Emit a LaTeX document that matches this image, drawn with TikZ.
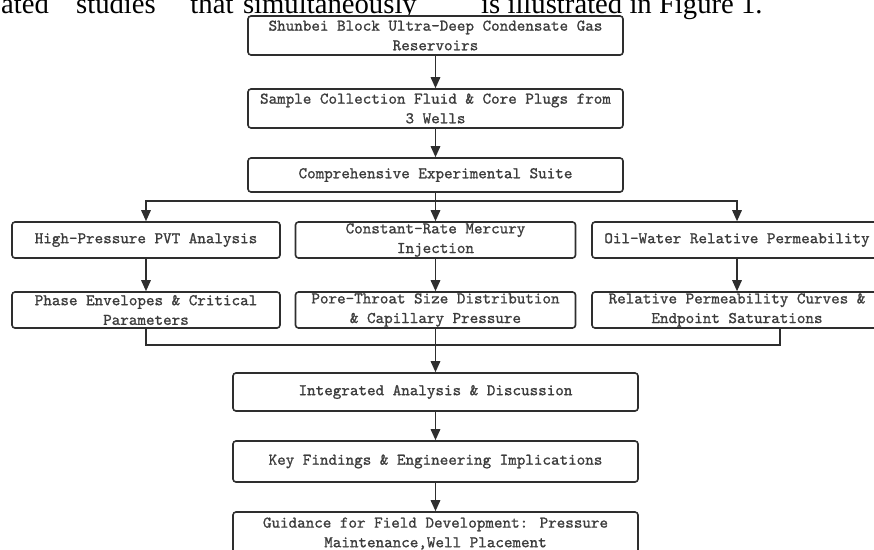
\documentclass[tikz,border=0pt]{standalone}
\usepackage{fontspec}
\newfontfamily\paperfont{Liberation Serif}
\newfontfamily\boxfont{lmmono10-regular.otf}[FakeBold=1.0]
\usetikzlibrary{arrows.meta}
\definecolor{linecol}{HTML}{2E2E2E}
\definecolor{txtcol}{HTML}{3C3C3C}
\tikzset{
  flowbox/.style={draw=linecol, line width=1.6pt, rounded corners=3pt, fill=white,
    inner sep=0pt, align=center, text=txtcol,
    font=\fontsize{16.3}{19.6}\selectfont\boxfont\bfseries},
  conn/.style={draw=linecol, line width=1.5pt},
  arr/.style={conn, -{Triangle[length=11pt,width=9.5pt]}},
  papertext/.style={anchor=base west, inner sep=0pt, font=\fontsize{28.7}{30}\selectfont\paperfont}
}
\begin{document}
\begin{tikzpicture}[x=1pt,y=-1pt]
\useasboundingbox (0,0) rectangle (874,549);
\fill[white] (0,0) rectangle (874,549);
\clip (0,0) rectangle (874,549);

% cropped line of the surrounding paper text
\node[papertext] (w1) at (1,13.2) {ated};
\node[papertext,anchor=base] (w2) at (116,13.2) {studies};
\node[papertext,anchor=base] (w3) at (212,13.2) {that};
\node[papertext,anchor=base east] (w4) at (417,13.2) {simultaneously};
\node[papertext] (w5) at (481,13.2) {is illustrated in Figure 1.};

% boxes
\node[flowbox, minimum width=375pt, minimum height=39pt] (b1) at (435.5,35.5)
  {Shunbei Block Ultra-Deep Condensate Gas\\Reservoirs};
\node[flowbox, minimum width=375pt, minimum height=39pt] (b2) at (435.5,108.5)
  {Sample Collection Fluid \& Core Plugs from\\3 Wells};
\node[flowbox, minimum width=375pt, minimum height=34pt] (b3) at (435.5,175)
  {Comprehensive Experimental Suite};

\node[flowbox, minimum width=268pt, minimum height=36pt] (b4) at (146,240)
  {High-Pressure PVT Analysis};
\node[flowbox, minimum width=280pt, minimum height=36pt] (b5) at (435.5,240)
  {Constant-Rate Mercury\\Injection};
\node[flowbox, minimum width=290pt, minimum height=36pt] (b6) at (737,240)
  {Oil-Water Relative Permeability};

\node[flowbox, minimum width=268pt, minimum height=36pt] (b7) at (146,310)
  {Phase Envelopes \& Critical\\Parameters};
\node[flowbox, minimum width=280pt, minimum height=36pt] (b8) at (435.5,310)
  {Pore-Throat Size Distribution\\\& Capillary Pressure};
\node[flowbox, minimum width=290pt, minimum height=36pt] (b9) at (737,310)
  {Relative Permeability Curves \&\\Endpoint Saturations};

\node[flowbox, minimum width=405pt, minimum height=38pt] (b10) at (435.5,392)
  {Integrated Analysis \& Discussion};
\node[flowbox, minimum width=405pt, minimum height=41pt] (b11) at (435.5,461.5)
  {Key Findings \& Engineering Implications};
\node[flowbox, minimum width=405pt, minimum height=43pt] (b12) at (435.5,533.5)
  {Guidance for Field Development: Pressure\\Maintenance,Well Placement};

% connectors
\coordinate (split) at (435.5,201);
\coordinate (merge) at (435.5,345);

\draw[arr] (b1) -- (b2);
\draw[arr] (b2) -- (b3);
\draw[conn] (b3.south) -- (split);
\draw[arr] (split) -| (b4.north);
\draw[arr] (split) -- (b5.north);
\draw[arr] (split) -| (b6.north);

\draw[arr] (b4) -- (b7);
\draw[arr] (b5) -- (b8);
\draw[arr] (b6) -- (b9);

\draw[conn] (b7.south) |- (merge);
\draw[conn] ([xshift=43pt]b9.south) |- (merge);
\draw[arr] (b8.south) -- (b10.north);

\draw[arr] (b10) -- (b11);
\draw[arr] (b11) -- (b12);
\end{tikzpicture}
\end{document}
